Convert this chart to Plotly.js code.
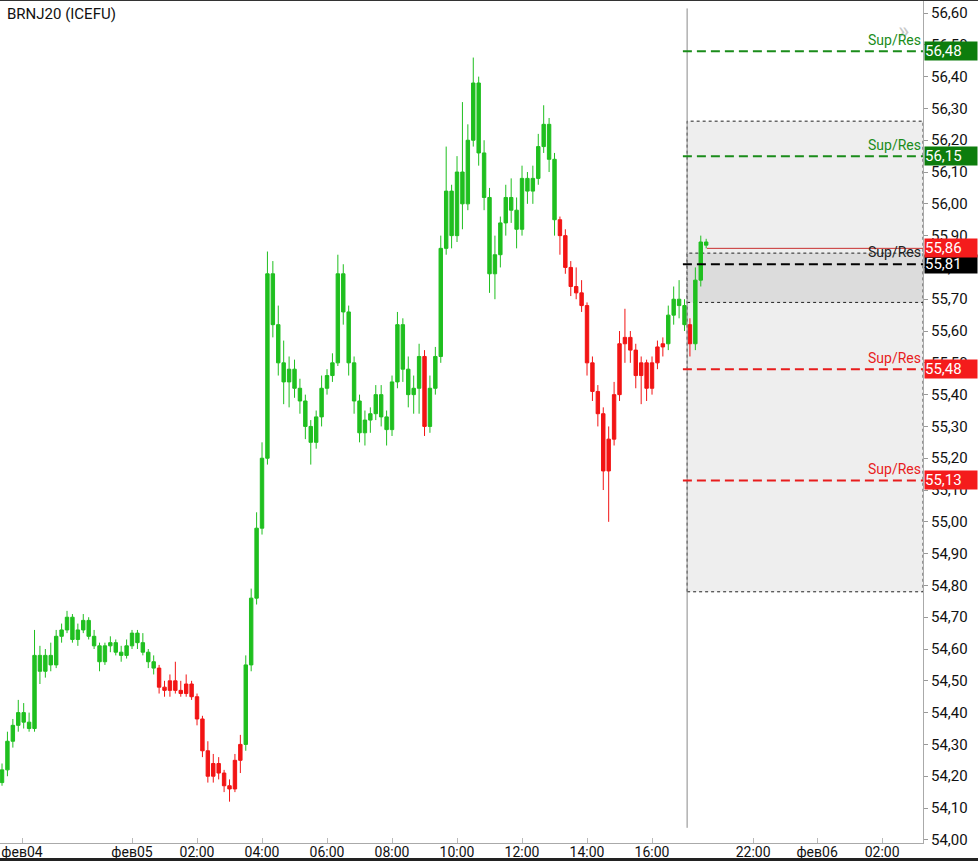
<!DOCTYPE html>
<html>
<head>
<meta charset="utf-8">
<script src="https://cdn.plot.ly/plotly-3.0.1.min.js"></script>
<style>
  html, body { margin: 0; padding: 0; background: #fff; }
  #chart { width: 978px; height: 861px; }
</style>
</head>
<body>
<div id="chart"></div>
<script>
// ---- Data (10-minute bars, hours relative to фев05 00:00) ----
const startHour = -4;          // фев04 20:00
const stepHour = 1 / 6;        // 10 minutes

const openP = [
  54.18, 54.22, 54.31, 54.36, 54.40, 54.37, 54.35, 54.58, 54.53, 54.58,
  54.55, 54.64, 54.66, 54.70, 54.63, 54.66, 54.69, 54.64, 54.61, 54.56,
  54.61, 54.62, 54.59, 54.58, 54.61, 54.65, 54.62, 54.59, 54.56, 54.54,
  54.48, 54.47, 54.50, 54.47, 54.46, 54.49, 54.45, 54.38, 54.28, 54.20,
  54.24, 54.21, 54.17, 54.16, 54.25, 54.30, 54.55, 54.76, 54.98, 55.20,
  55.78, 55.62, 55.50, 55.44, 55.48, 55.42, 55.38, 55.30, 55.25, 55.33,
  55.42, 55.46, 55.50, 55.78, 55.66, 55.50, 55.38, 55.28, 55.32, 55.34,
  55.40, 55.33, 55.29, 55.44, 55.62, 55.48, 55.40, 55.42, 55.52, 55.30,
  55.42, 55.52, 55.86, 56.04, 55.90, 56.10, 56.00, 56.20, 56.38, 56.16,
  56.02, 55.78, 55.84, 55.94, 56.02, 55.98, 55.92, 56.08, 56.04, 56.08,
  56.18, 56.25, 56.14, 55.95, 55.90, 55.80, 55.74, 55.72, 55.68, 55.50,
  55.41, 55.34, 55.16, 55.26, 55.40, 55.56, 55.58, 55.54, 55.46, 55.50,
  55.42, 55.50, 55.55, 55.56, 55.65, 55.70, 55.68, 55.62, 55.56, 55.76,
  55.88
];
const highP = [
  54.24, 54.34, 54.38, 54.44, 54.43, 54.40, 54.66, 54.61, 54.60, 54.62,
  54.66, 54.68, 54.72, 54.71, 54.68, 54.71, 54.70, 54.66, 54.62, 54.62,
  54.64, 54.63, 54.61, 54.63, 54.66, 54.66, 54.65, 54.60, 54.58, 54.55,
  54.50, 54.52, 54.56, 54.50, 54.52, 54.50, 54.46, 54.39, 54.31, 54.27,
  54.26, 54.22, 54.19, 54.27, 54.33, 54.58, 54.79, 55.03, 55.25, 55.85,
  55.82, 55.68, 55.57, 55.52, 55.51, 55.45, 55.40, 55.32, 55.35, 55.46,
  55.48, 55.53, 55.84, 55.81, 55.68, 55.52, 55.40, 55.35, 55.36, 55.43,
  55.43, 55.35, 55.46, 55.66, 55.64, 55.52, 55.46, 55.56, 55.54, 55.46,
  55.55, 55.90, 56.18, 56.06, 56.15, 56.32, 56.25, 56.46, 56.40, 56.20,
  56.05, 55.90, 55.96, 56.06, 56.08, 56.02, 56.12, 56.10, 56.12, 56.22,
  56.31, 56.27, 56.16, 55.96, 55.92, 55.82, 55.80, 55.76, 55.69, 55.52,
  55.43, 55.36, 55.30, 55.44, 55.60, 55.67, 55.60, 55.56, 55.52, 55.51,
  55.52, 55.57, 55.58, 55.68, 55.74, 55.76, 55.70, 55.64, 55.80, 55.90,
  55.89
];
const lowP = [
  54.17, 54.20, 54.29, 54.34, 54.35, 54.34, 54.34, 54.49, 54.51, 54.53,
  54.54, 54.62, 54.65, 54.62, 54.61, 54.65, 54.63, 54.60, 54.53, 54.55,
  54.59, 54.58, 54.56, 54.57, 54.60, 54.60, 54.58, 54.54, 54.52, 54.46,
  54.45, 54.45, 54.46, 54.45, 54.45, 54.44, 54.36, 54.26, 54.18, 54.18,
  54.19, 54.15, 54.12, 54.15, 54.21, 54.28, 54.53, 54.74, 54.96, 55.18,
  55.58, 55.46, 55.37, 55.36, 55.39, 55.34, 55.26, 55.18, 55.23, 55.30,
  55.40, 55.44, 55.49, 55.62, 55.46, 55.34, 55.25, 55.24, 55.28, 55.32,
  55.30, 55.24, 55.27, 55.42, 55.44, 55.36, 55.34, 55.34, 55.27, 55.28,
  55.40, 55.50, 55.84, 55.86, 55.88, 55.92, 55.98, 56.18, 56.12, 55.98,
  55.72, 55.70, 55.80, 55.90, 55.94, 55.86, 55.90, 56.00, 56.00, 56.06,
  56.16, 56.10, 55.90, 55.84, 55.78, 55.71, 55.70, 55.66, 55.46, 55.38,
  55.30, 55.10, 55.00, 55.24, 55.38, 55.50, 55.50, 55.42, 55.37, 55.38,
  55.40, 55.48, 55.52, 55.54, 55.62, 55.64, 55.60, 55.52, 55.54, 55.74,
  55.86
];
const closeP = [
  54.22, 54.31, 54.36, 54.40, 54.37, 54.35, 54.58, 54.53, 54.58, 54.55,
  54.64, 54.66, 54.70, 54.63, 54.66, 54.69, 54.64, 54.61, 54.56, 54.61,
  54.62, 54.59, 54.58, 54.61, 54.65, 54.62, 54.59, 54.56, 54.54, 54.48,
  54.47, 54.50, 54.47, 54.46, 54.49, 54.45, 54.38, 54.28, 54.20, 54.24,
  54.21, 54.17, 54.16, 54.25, 54.30, 54.55, 54.76, 54.98, 55.20, 55.78,
  55.62, 55.50, 55.44, 55.48, 55.42, 55.38, 55.30, 55.25, 55.33, 55.42,
  55.46, 55.50, 55.78, 55.66, 55.50, 55.38, 55.28, 55.32, 55.34, 55.40,
  55.33, 55.29, 55.44, 55.62, 55.48, 55.40, 55.42, 55.52, 55.30, 55.42,
  55.52, 55.86, 56.04, 55.90, 56.10, 56.00, 56.20, 56.38, 56.16, 56.02,
  55.78, 55.84, 55.94, 56.02, 55.98, 55.92, 56.08, 56.04, 56.08, 56.18,
  56.25, 56.14, 55.95, 55.90, 55.80, 55.74, 55.72, 55.68, 55.50, 55.41,
  55.34, 55.16, 55.26, 55.40, 55.56, 55.58, 55.54, 55.46, 55.50, 55.42,
  55.50, 55.55, 55.56, 55.65, 55.70, 55.68, 55.62, 55.56, 55.76, 55.88,
  55.87
];
// trend regime of each bar: g = green, r = red
const trend =
  'ggggggggggggggggggggggggggggg' +   // 0-28
  'rrrrrrrrrrrrrrrr' +                // 29-44
  'ggggggggggggggggggggggggggggggggg' + // 45-77
  'r' +                               // 78
  'gggggggggggggggggggggggg' +        // 79-102
  'rrrrrrrrrrrrrrrrrrrr' +            // 103-122
  'gggg' + 'r' + 'ggg';               // 123-130

// Support / resistance levels
const levelValues = [56.48, 56.15, 55.81, 55.48, 55.13];
const levelKinds  = ['g', 'g', 'k', 'r', 'r'];
const lastPrice = 55.86;
const zoneOuter = [54.78, 56.26];
const zoneInner = [55.69, 55.845];
const nowHour = 17.08;

// x-axis ticks (hours relative to фев05 00:00; future area is compressed)
const tickPos  = [-3.385, 0, 2, 4, 6, 8, 10, 12, 14, 16, 19.11, 21.08, 23.08];
const tickText = ['фев04', 'фев05', '02:00', '04:00', '06:00', '08:00', '10:00',
                  '12:00', '14:00', '16:00', '22:00', 'фев06', '02:00'];

const title = 'BRNJ20 (ICEFU)';

// ---- Build ----
const GREEN = '#1fbf1f', RED = '#f21414';
const times = closeP.map((_, i) => startHour + i * stepHour);

function sub(flag) {
  const idx = [];
  for (let i = 0; i < closeP.length; i++) if (trend[i] === flag) idx.push(i);
  return {
    x: idx.map(i => times[i]), open: idx.map(i => openP[i]), high: idx.map(i => highP[i]),
    low: idx.map(i => lowP[i]), close: idx.map(i => closeP[i])
  };
}
function candleTrace(flag, color) {
  const d = sub(flag);
  return Object.assign({
    type: 'candlestick', hoverinfo: 'skip', showlegend: false, whiskerwidth: 0,
    increasing: { line: { color: color, width: 1 }, fillcolor: color },
    decreasing: { line: { color: color, width: 1 }, fillcolor: color }
  }, d);
}
const traces = [candleTrace('g', GREEN), candleTrace('r', RED)];

const colorOf = { g: '#1a8c1a', r: '#e81c1c', k: '#000000' };
const boxOf = { g: '#0d7d0d', r: '#f41c1c', k: '#000000' };

const shapes = [
  { type: 'rect', xref: 'x', x0: nowHour, x1: 24.34, yref: 'y', y0: zoneOuter[0], y1: zoneOuter[1],
    fillcolor: '#eeeeee', line: { color: '#222', width: 1, dash: 'dot' }, layer: 'below' },
  { type: 'rect', xref: 'x', x0: nowHour, x1: 24.34, yref: 'y', y0: zoneInner[0], y1: zoneInner[1],
    fillcolor: '#dcdcdc', line: { color: '#222', width: 1, dash: 'dot' }, layer: 'below' },
  { type: 'line', xref: 'x', x0: nowHour, x1: nowHour, yref: 'paper', y0: 0.018, y1: 0.99,
    line: { color: '#8a8a8a', width: 1 } },
  { type: 'line', xref: 'x', x0: 17.69, x1: 24.34, yref: 'y', y0: lastPrice, y1: lastPrice,
    line: { color: '#c83030', width: 1 } },
  { type: 'line', xref: 'paper', x0: 0, x1: 978 / 923, yref: 'paper', y0: 1.0, y1: 1.0,
    line: { color: '#333', width: 2 } },
  { type: 'line', xref: 'paper', x0: 0, x1: 978 / 923, yref: 'paper', y0: -0.0195, y1: -0.0195,
    line: { color: '#222', width: 3 } }
];
levelValues.forEach((v, i) => {
  shapes.push({ type: 'line', xref: 'x', x0: 16.95, x1: 24.34, yref: 'y', y0: v, y1: v,
    line: { color: colorOf[levelKinds[i]], width: 2, dash: '9px,5px' } });
});

const FONT = 'Roboto, "Noto Sans", sans-serif';
const fmt = v => v.toFixed(2).replace('.', ',');
const annotations = [
  { xref: 'paper', yref: 'paper', x: 0.005, y: 1, yshift: -3, xanchor: 'left', yanchor: 'top',
    text: title, showarrow: false, font: { family: FONT, size: 15, color: '#111' } },
  { xref: 'paper', yref: 'paper', x: 0.979, y: 0.963, xanchor: 'center', yanchor: 'middle',
    text: '»', showarrow: false, font: { family: FONT, size: 24, color: '#c8c8c8' } }
];
levelValues.forEach((v, i) => {
  const k = levelKinds[i];
  annotations.push({ xref: 'paper', yref: 'y', x: 1, y: v, xanchor: 'right', yanchor: 'bottom',
    yshift: k === 'k' ? 2 : 1, text: 'Sup/Res', showarrow: false,
    font: { family: FONT, size: 14, color: k === 'k' ? '#222' : colorOf[k] } });
  annotations.push({ xref: 'paper', yref: 'y', x: 1, y: v, xanchor: 'left', yanchor: 'middle',
    xshift: 1, text: fmt(v), showarrow: false, bgcolor: boxOf[k], width: 52, height: 18,
    align: 'left', borderpad: 0, font: { family: FONT, size: 15, color: '#fff' } });
});
annotations.push({ xref: 'paper', yref: 'y', x: 1, y: lastPrice, xanchor: 'left', yanchor: 'middle',
  xshift: 1, text: fmt(lastPrice), showarrow: false, bgcolor: '#f41c1c', width: 52, height: 18,
  align: 'left', borderpad: 0, font: { family: FONT, size: 15, color: '#fff' } });

const layout = {
  width: 978, height: 861,
  margin: { l: 0, r: 55, t: 0, b: 18, pad: 0 },
  paper_bgcolor: '#ffffff', plot_bgcolor: '#ffffff',
  separators: ', ',
  showlegend: false,
  boxgap: 0.1,
  font: { family: FONT, size: 15, color: '#111' },
  xaxis: {
    type: 'linear', range: [-4.062, 24.338], rangeslider: { visible: false },
    tickmode: 'array', tickvals: tickPos, ticktext: tickText,
    ticks: 'inside', ticklen: 5, tickcolor: '#bbb',
    ticklabelstandoff: -4, ticklabeloverflow: 'allow',
    showgrid: false, zeroline: false, showline: true, linecolor: '#aaa', linewidth: 1,
    tickfont: { family: FONT, size: 14, color: '#111' }, fixedrange: true
  },
  yaxis: {
    side: 'right', range: [53.990, 56.641], tick0: 54, dtick: 0.1, tickformat: '.2f',
    ticks: 'outside', ticklen: 4, tickcolor: '#999',
    showgrid: false, zeroline: false, showline: true, linecolor: '#aaa', linewidth: 1,
    tickfont: { family: FONT, size: 15, color: '#111' }, fixedrange: true
  },
  shapes: shapes,
  annotations: annotations
};

Plotly.newPlot('chart', traces, layout, { displayModeBar: false, staticPlot: true });
</script>
</body>
</html>
